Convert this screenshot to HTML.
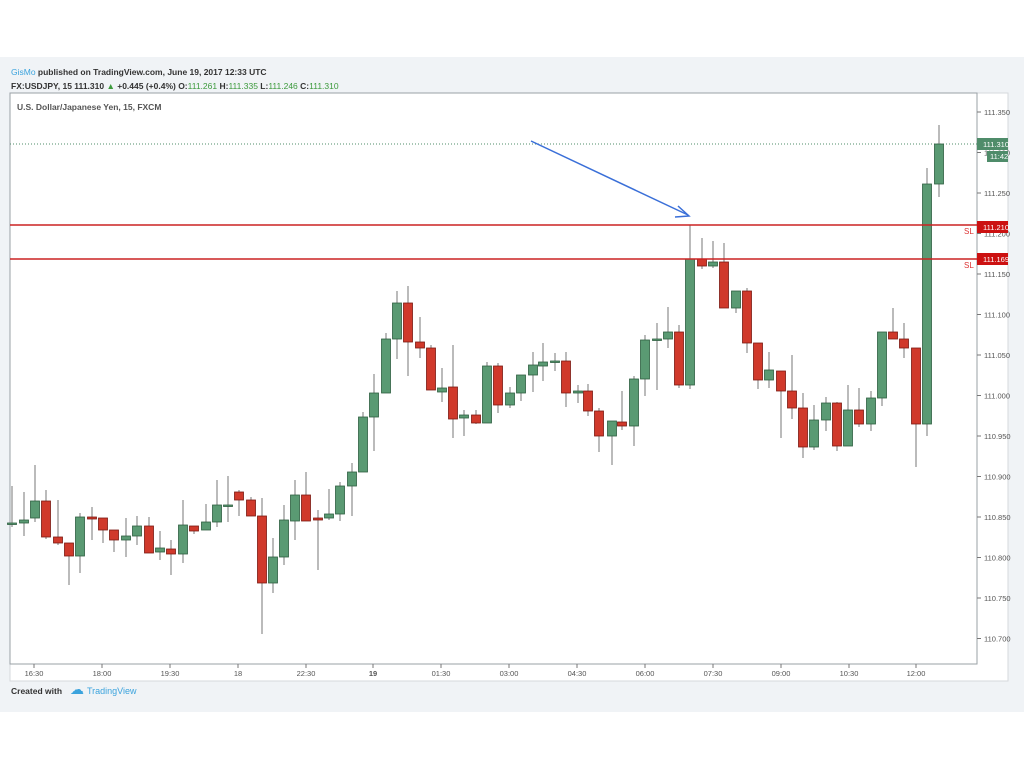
<!DOCTYPE html>
<html><head><meta charset="utf-8"><style>
body{margin:0;background:#fff;width:1024px;height:767px;overflow:hidden;font-family:"Liberation Sans",sans-serif}
</style></head><body>
<svg id="s" width="1024" height="767" xmlns="http://www.w3.org/2000/svg" font-family="Liberation Sans, sans-serif">
<rect x="0" y="57" width="1024" height="655" fill="#f0f3f6"/>
<rect x="10" y="93" width="998" height="588" fill="#fff" stroke="#d6d9dc"/>
<rect x="10" y="93" width="967" height="571" fill="#fff" stroke="#9aa0a6"/>
<text x="11" y="75" font-size="8.5" font-weight="bold" fill="#333"><tspan fill="#3ba3dd" font-weight="normal">GisMo</tspan> published on TradingView.com, June 19, 2017 12:33 UTC</text>
<text x="11" y="89" font-size="8.5" font-weight="bold" fill="#333">FX:USDJPY, 15  111.310 <tspan fill="#3c9a3c">▲</tspan> +0.445 (+0.4%) O:<tspan fill="#3c9a3c" font-weight="normal">111.261</tspan> H:<tspan fill="#3c9a3c" font-weight="normal">111.335</tspan> L:<tspan fill="#3c9a3c" font-weight="normal">111.246</tspan> C:<tspan fill="#3c9a3c" font-weight="normal">111.310</tspan></text>
<text x="17" y="110" font-size="8.5" font-weight="bold" fill="#555">U.S. Dollar/Japanese Yen, 15, FXCM</text>
<line x1="10" y1="144" x2="977" y2="144" stroke="#4f8c6a" stroke-dasharray="1,2" stroke-width="1"/>
<g id="c"></g>
<line x1="10" y1="225" x2="977" y2="225" stroke="#cc2222" stroke-width="1.5"/>
<line x1="10" y1="259" x2="977" y2="259" stroke="#cc2222" stroke-width="1.5"/>
<text x="964" y="234" font-size="8" fill="#dd3333">SL</text>
<text x="964" y="268" font-size="8" fill="#dd3333">SL</text>
<line x1="531" y1="141" x2="688" y2="215" stroke="#3a6fd8" stroke-width="1.5"/>
<polyline points="678,206 689,216 675,217" fill="none" stroke="#3a6fd8" stroke-width="1.5"/>
<g id="ax" font-size="7.5" fill="#555"></g>
<rect x="977" y="138" width="31" height="12" fill="#4f8c6a"/><text x="983" y="147" font-size="7.5" fill="#fff">111.310</text>
<rect x="987" y="151" width="21" height="11" fill="#4f8c6a"/><text x="990" y="159" font-size="7.5" fill="#fff">11:42</text>
<rect x="977" y="221" width="31" height="12" fill="#cc1111"/><text x="983" y="230" font-size="7.5" fill="#fff">111.210</text>
<rect x="977" y="253" width="31" height="12" fill="#cc1111"/><text x="983" y="262" font-size="7.5" fill="#fff">111.169</text>
<text x="11" y="694" font-size="8.5" font-weight="bold" fill="#333">Created with</text>
<text x="70" y="694" font-size="14" fill="#3ba3dd">☁</text>
<text x="87" y="694" font-size="9" fill="#3ba3dd">TradingView</text>
</svg>
<script>
var d=[[12,523,523,486,527],[24,523,520,492,536],[35,518,501,465,522],[46,501,537,490,539],[58,537,543,500,545],[69,543,556,543,585],[80,556,517,513,573],[92,517,519,507,540],[103,518,530,518,543],[114,530,540,530,552],[126,540,536,518,557],[137,536,526,516,545],[149,526,553,517,553],[160,552,548,531,560],[171,549,554,540,575],[183,554,525,500,563],[194,526,531,526,534],[206,530,522,504,530],[217,522,505,480,527],[228,505,505,476,522],[239,492,500,490,516],[251,500,516,497,516],[262,516,583,498,634],[273,583,557,538,593],[284,557,520,505,565],[295,521,495,480,540],[306,495,521,472,521],[318,518,520,510,570],[329,518,514,489,520],[340,514,486,482,521],[352,486,472,463,516],[363,472,417,412,472],[374,417,393,374,451],[386,393,339,333,393],[397,339,303,291,359],[408,303,342,286,376],[420,342,348,317,358],[431,348,390,345,390],[442,392,388,368,402],[453,387,419,345,438],[464,418,415,410,436],[476,415,423,410,424],[487,423,366,362,423],[498,366,405,363,413],[510,405,393,387,408],[521,393,375,375,401],[533,375,365,352,392],[543,366,362,343,381],[555,361,361,353,371],[566,361,393,352,407],[578,393,391,385,403],[588,391,411,384,416],[599,411,436,408,452],[612,436,421,421,465],[622,422,426,391,430],[634,426,379,376,446],[645,379,340,335,396],[657,339,339,323,390],[668,339,332,307,348],[679,332,385,325,388],[690,385,259,225,389],[702,259,266,238,269],[713,266,262,241,268],[724,262,308,243,308],[736,308,291,291,313],[747,291,343,288,353],[758,343,380,343,389],[769,380,370,352,388],[781,371,391,371,438],[792,391,408,355,419],[803,408,447,393,458],[814,447,420,405,450],[826,420,403,397,431],[837,403,446,402,451],[848,446,410,385,446],[859,410,424,388,427],[871,424,398,391,431],[882,398,332,332,406],[893,332,339,308,339],[904,339,348,323,358],[916,348,424,348,467],[927,424,184,168,436],[939,184,144,125,197]];
var ns="http://www.w3.org/2000/svg",g=document.getElementById('c'),h='';
d.forEach(function(c){var x=c[0],o=c[1],cl=c[2],up=cl<=o,t=Math.min(o,cl),b=Math.max(o,cl);
h+='<line x1="'+x+'" y1="'+c[3]+'" x2="'+x+'" y2="'+c[4]+'" stroke="#777" stroke-width="1"/>';
h+='<rect x="'+(x-4.5)+'" y="'+t+'" width="9" height="'+Math.max(1.5,b-t)+'" fill="'+(up?'#5a9a73':'#d0392b')+'" stroke="'+(up?'#2e5e40':'#7a1a12')+'" stroke-width="0.8"/>';});
g.innerHTML=h;
var a='';var p=['111.350','111.300','111.250','111.200','111.150','111.100','111.050','111.000','110.950','110.900','110.850','110.800','110.750','110.700'];
p.forEach(function(v,i){var y=112+i*40.5;a+='<line x1="977" y1="'+y+'" x2="981" y2="'+y+'" stroke="#777"/><text x="984" y="'+(y+3)+'">'+v+'</text>';});
var t=[[34,'16:30'],[102,'18:00'],[170,'19:30'],[238,'18'],[306,'22:30'],[373,'19'],[441,'01:30'],[509,'03:00'],[577,'04:30'],[645,'06:00'],[713,'07:30'],[781,'09:00'],[849,'10:30'],[916,'12:00']];
t.forEach(function(q){a+='<line x1="'+q[0]+'" y1="664" x2="'+q[0]+'" y2="668" stroke="#777"/><text x="'+q[0]+'" y="676" text-anchor="middle"'+(q[1]=='19'?' font-weight="bold"':'')+'>'+q[1]+'</text>';});
document.getElementById('ax').innerHTML=a;
</script>
</body></html>
